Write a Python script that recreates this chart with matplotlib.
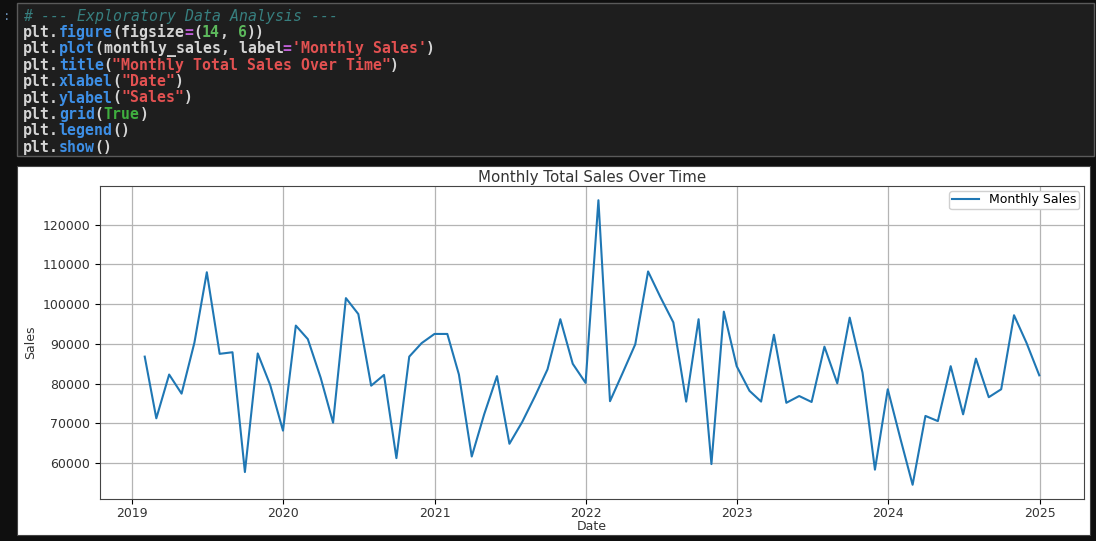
import matplotlib
matplotlib.use("Agg")
import matplotlib.pyplot as plt
import matplotlib.dates as mdates
from matplotlib.patches import Rectangle
import pandas as pd

# ---------------- data ----------------
dates = pd.date_range("2019-01-31", periods=72, freq="ME")
sales_2019 = [86800, 71300, 82300, 77500, 90300, 108000, 87500, 87900, 57800, 87600, 79700, 68200]
sales_2020 = [94600, 91200, 81500, 70200, 101500, 97500, 79500, 82200, 61300, 86800, 90200, 92500]
sales_2021 = [92500, 82300, 61700, 72300, 81900, 64900, 70400, 76900, 83600, 96200, 85000, 80200]
sales_2022 = [126100, 75600, 82800, 89900, 108200, 101700, 95400, 75500, 96200, 59800, 98100, 84400]
sales_2023 = [78200, 75500, 92300, 75200, 76900, 75400, 89300, 80100, 96600, 82800, 58400, 78600]
sales_2024 = [66000, 54600, 71900, 70600, 84400, 72300, 86300, 76600, 78600, 97200, 90300, 82100]
monthly_sales = pd.Series(sales_2019 + sales_2020 + sales_2021 + sales_2022 + sales_2023 + sales_2024,
                          index=dates)

title_text = "Monthly Total Sales Over Time"
xlabel_text = "Date"
ylabel_text = "Sales"
legend_label = "Monthly Sales"

# code cell tokens: (text, color, style)
C_TXT = "#d4d4d4"
C_FN = "#3d8fe6"
C_EQ = "#c060d8"
C_NUM = "#5cb85c"
C_STR = "#e25151"
C_KW = "#3fae3f"
C_COM = "#377f7f"
code_lines = [
    [("# --- Exploratory Data Analysis ---", C_COM, "italic")],
    [("plt.", C_TXT, None), ("figure", C_FN, None), ("(figsize", C_TXT, None), ("=", C_EQ, None),
     ("(", C_TXT, None), ("14", C_NUM, None), (", ", C_TXT, None), ("6", C_NUM, None), ("))", C_TXT, None)],
    [("plt.", C_TXT, None), ("plot", C_FN, None), ("(monthly_sales, label", C_TXT, None), ("=", C_EQ, None),
     ("'Monthly Sales'", C_STR, None), (")", C_TXT, None)],
    [("plt.", C_TXT, None), ("title", C_FN, None), ("(", C_TXT, None),
     ('"Monthly Total Sales Over Time"', C_STR, None), (")", C_TXT, None)],
    [("plt.", C_TXT, None), ("xlabel", C_FN, None), ("(", C_TXT, None), ('"Date"', C_STR, None), (")", C_TXT, None)],
    [("plt.", C_TXT, None), ("ylabel", C_FN, None), ("(", C_TXT, None), ('"Sales"', C_STR, None), (")", C_TXT, None)],
    [("plt.", C_TXT, None), ("grid", C_FN, None), ("(", C_TXT, None), ("True", C_KW, None), (")", C_TXT, None)],
    [("plt.", C_TXT, None), ("legend", C_FN, None), ("()", C_TXT, None)],
    [("plt.", C_TXT, None), ("show", C_FN, None), ("()", C_TXT, None)],
]

# ---------------- figure ----------------
W, H = 1096, 541
fig = plt.figure(figsize=(W / 100, H / 100), dpi=100)
fig.patch.set_facecolor("#0f0f0f")


def fx(px):
    return px / W


def fy(py):
    return 1 - py / H


# code cell background
fig.patches.append(Rectangle((fx(17), fy(156)), fx(1094) - fx(17), fy(3) - fy(156),
                             transform=fig.transFigure, facecolor="#1e1e1e",
                             edgecolor="#5a5a5a", linewidth=1.0, zorder=-5))
fig.text(fx(3), fy(16), ":", color="#6a8fb5", fontsize=9, ha="left", va="center",
         family="DejaVu Sans Mono")

char_w = 8.95
x0 = 23
y0 = 16
dy = 16.4
for i, toks in enumerate(code_lines):
    col = 0
    for txt, colr, style in toks:
        fig.text(fx(x0 + col * char_w), fy(y0 + i * dy), txt, color=colr,
                 fontsize=10.7, family="DejaVu Sans Mono",
                 fontweight="normal" if style == "italic" else "bold",
                 fontstyle=style or "normal", ha="left", va="center")
        col += len(txt)

# white output area
fig.patches.append(Rectangle((fx(17), fy(535)), fx(1090) - fx(17), fy(166) - fy(535),
                             transform=fig.transFigure, facecolor="white",
                             edgecolor="#444444", linewidth=0.8, zorder=-5))

ax = fig.add_axes([fx(100), fy(499), fx(1084) - fx(100), fy(186) - fy(499)])
ax.set_zorder(2)
ax.plot(monthly_sales.index, monthly_sales.values, color="#1f77b4", linewidth=1.5, label=legend_label)
ax.set_title(title_text, fontsize=10.8, color="#333333", pad=3)
ax.set_xlabel(xlabel_text, fontsize=9, color="#333333", labelpad=0)
ax.set_ylabel(ylabel_text, fontsize=9, color="#333333", labelpad=4)
ax.grid(True, color="#b4b4b4", linewidth=0.9)
ax.legend(fontsize=9, loc="upper right", borderpad=0.2, borderaxespad=0.4,
          handlelength=2.2, framealpha=1, edgecolor="#d0d0d0")
ax.xaxis.set_major_locator(mdates.YearLocator())
ax.xaxis.set_major_formatter(mdates.DateFormatter("%Y"))
ax.tick_params(labelsize=9, labelcolor="#333333", length=3.5)
ax.tick_params(axis="x", pad=2)
for s in ax.spines.values():
    s.set_color("#444444")
    s.set_linewidth(0.8)

fig.savefig("out.png", dpi=100, facecolor=fig.get_facecolor())
